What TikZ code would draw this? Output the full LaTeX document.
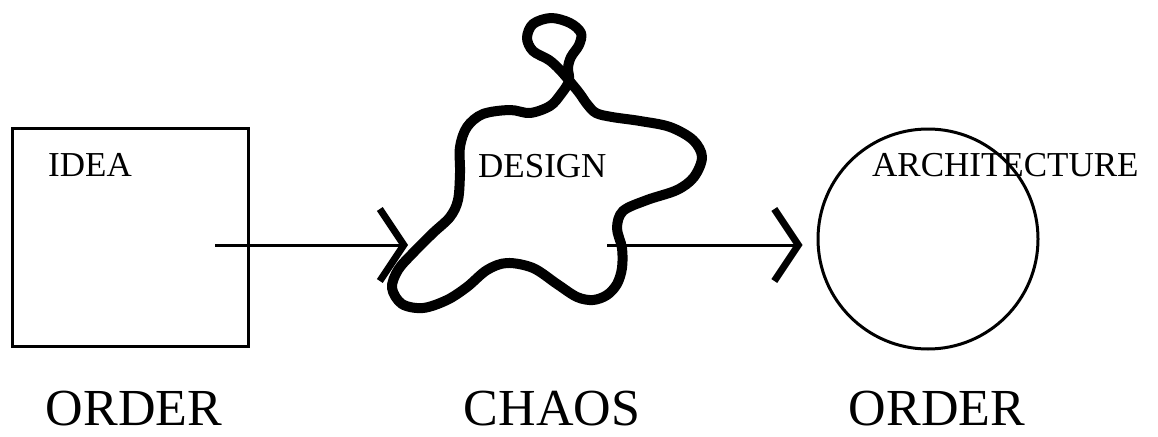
\documentclass[tikz,border=0pt]{standalone}
\usepackage{fontspec}
\setmainfont{Liberation Serif}
\usetikzlibrary{arrows.meta, positioning}

\begin{document}
\begin{tikzpicture}[x=1pt, y=-1pt,
    small/.style={anchor=base west, inner sep=0pt, font=\fontsize{35}{40}\selectfont},
    big/.style={anchor=base, inner sep=0pt, font=\fontsize{52}{60}\selectfont},
    shapebox/.style={draw, line width=3pt, inner sep=0pt},
    flow/.style={line width=3pt, -{Straight Barb[length=24pt, width=72pt, line width=7pt]}}
]
    \useasboundingbox (0,0) rectangle (1158,436);

    % order -> chaos -> order
    \node[shapebox, rectangle, minimum width=236pt, minimum height=218pt] (idea) at (130,237) {};
    \node[shapebox, circle, minimum size=220pt] (arch) at (928,239) {};

    \draw[line width=10pt, line join=round] plot[smooth cycle, tension=0.55] coordinates {
        (550,106) (561,94) (569,81) (568,68) (571,57) (579,45) (581,33) (570,23)
        (551,18) (533,24) (527,38) (533,51) (549,60) (560,70) (572,84) (580,94)
        (587,104) (596,113) (612,117) (640,121) (670,127) (693,140) (702,157)
        (694,177) (677,190) (647,200) (623,211) (617,228) (622,248) (622,268)
        (617,284) (607,295) (593,300) (577,297) (557,284) (533,268) (507,263)
        (487,270) (467,287) (447,300) (423,308) (402,304) (392,288) (398,270)
        (413,253) (433,233) (450,217) (458,200) (460,173) (460,147) (467,127)
        (483,114) (510,110) (530,113)};

    \node[small] (ideatxt) at (48,176) {IDEA};
    \node[small] (designtxt) at (478,177) {DESIGN};
    \node[small] (archtxt) at (872,176) {ARCHITECTURE};

    \node[big] (order1) at (134,425) {ORDER};
    \node[big] (chaos) at (552,425) {CHAOS};
    \node[big] (order2) at (937,425) {ORDER};

    \coordinate (ideaout) at (215,245);
    \coordinate (designin) at (408,245);
    \coordinate (designout) at (607,245);

    \draw[flow] (ideaout) -- (designin);
    \draw[flow, shorten >=14pt] (designout) -- (designout -| arch.west);
\end{tikzpicture}
\end{document}
